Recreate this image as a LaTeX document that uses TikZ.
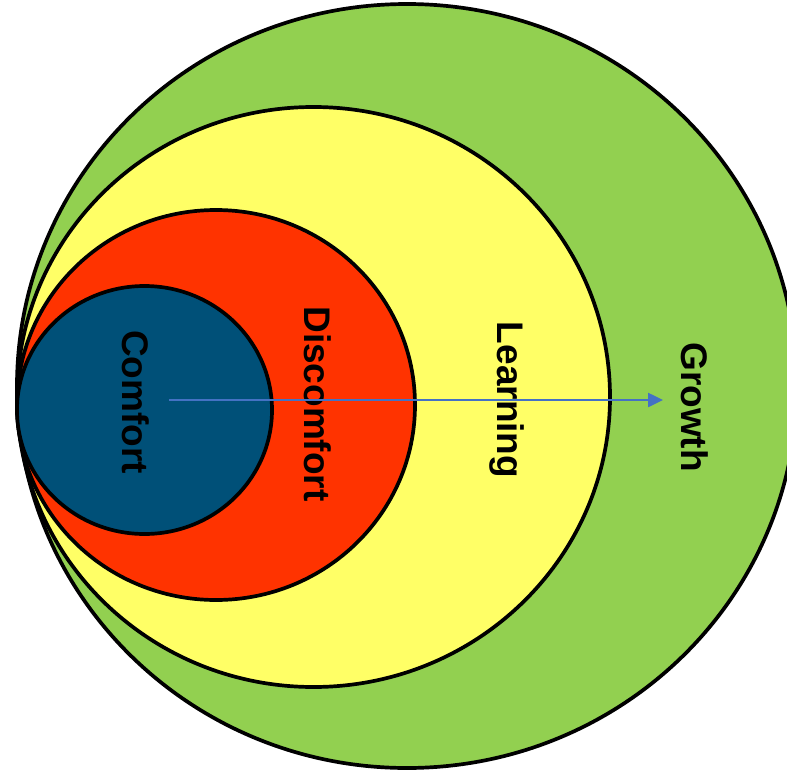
\documentclass[tikz,border=0pt]{standalone}
\usepackage{fontspec}
\setmainfont{Liberation Sans}
\usetikzlibrary{arrows.meta}
\definecolor{cgreen}{HTML}{92D050}
\definecolor{cyellow}{HTML}{FFFF66}
\definecolor{cred}{HTML}{FF3300}
\definecolor{cblue}{HTML}{005078}
\definecolor{carrow}{HTML}{4472C4}
\tikzset{
  zone/.style={draw=black, line width=3.7pt},
  zonelabel/.style={rotate=-90, inner sep=0pt, text height=27pt, text depth=0pt,
    font=\fontsize{37}{40}\selectfont\bfseries},
  growarrow/.style={draw=carrow, line width=2.5pt, -{Triangle[length=15pt,width=14pt]}}
}
\begin{document}
\begin{tikzpicture}[x=1pt,y=-1pt]
\useasboundingbox (0,0) rectangle (787,771);
\clip (0,0) rectangle (787,771);
\fill[white] (0,0) rectangle (787,771);
\draw[zone, fill=cgreen] (407,386) ellipse [x radius=390pt, y radius=382pt];
\draw[zone, fill=cyellow] (313.5,397) ellipse [x radius=296.5pt, y radius=290pt];
\draw[zone, fill=cred] (216,405) ellipse [x radius=199pt, y radius=195pt];
\draw[zone, fill=cblue] (144.5,410) ellipse [x radius=127.5pt, y radius=124pt];
\node[zonelabel] (comfort) at (136,402) {Comfort};
\node[zonelabel] (discomfort) at (318,404) {Discomfort};
\node[zonelabel] (learning) at (511,400) {Learning};
\node[zonelabel] (growth) at (695,407) {Growth};
\coordinate (astart) at (169,400);
\coordinate (aend) at (663,400);
\draw[growarrow] (astart) -- (aend);
\end{tikzpicture}
\end{document}
